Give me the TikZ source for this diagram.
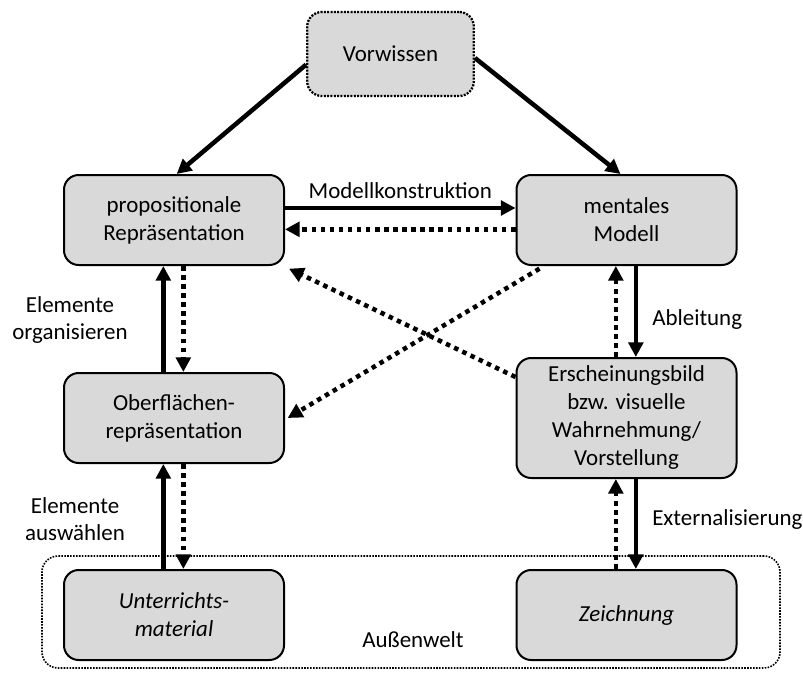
\documentclass[tikz,border=0pt]{standalone}
\usepackage{fontspec}
\setmainfont{Carlito}
\usetikzlibrary{arrows.meta}
\definecolor{boxgray}{HTML}{D9D9D9}
\tikzset{
  box/.style={draw=black, line width=1.5pt, fill=boxgray, rounded corners=11pt,
    align=center, minimum width=165pt, minimum height=67.5pt, inner sep=2pt, font=\fontsize{17.2}{21}\selectfont},
  solidarrow/.style={line width=3.4pt, -{Triangle[length=11pt,width=11pt]}},
  dotarrow/.style={line width=3.4pt, dash pattern=on 3.4pt off 3.4pt, -{Triangle[length=11pt,width=11pt]}},
  lbl/.style={font=\fontsize{17.2}{20}\selectfont, align=center, inner sep=0pt},
}
\begin{document}
\begin{tikzpicture}[x=0.75pt, y=-0.75pt]
\useasboundingbox (0,0) rectangle (803,674);
% outer world frame
\node[draw=black, line width=1.2pt, densely dotted, rounded corners=12pt,
  minimum width=553.5pt, minimum height=84pt] (aussen) at (411,612) {};
\node[lbl] (aussentext) at (413,640) {Außenwelt};
% boxes
\node[box, densely dotted, line width=1.7pt, minimum width=125pt, minimum height=63pt] (vor) at (390.5,54) {Vorwissen};
\node[box] (prop) at (174,220) {propositionale\\Repräsentation};
\node[box] (ment) at (626.5,220) {mentales\\Modell};
\node[box] (ober) at (174,418) {Oberflächen-\\repräsentation};
\node[box, minimum height=90pt] (ers) at (626.5,418) {Erscheinungsbild\\bzw. visuelle\\Wahrnehmung/\\Vorstellung};
\node[box] (unt) at (174,615) {\itshape Unterrichts-\\\itshape material};
\node[box] (zei) at (626.5,615) {\itshape Zeichnung};
% arrows from Vorwissen
\draw[solidarrow] ([yshift=-8pt]vor.west) -- ([xshift=2pt]prop.north);
\draw[solidarrow] ([yshift=-3pt]vor.east) -- ([xshift=-4.5pt]ment.north);
% top horizontal
\draw[solidarrow] ([yshift=9pt]prop.east) -- node[lbl, above=5pt] (mk) {Modellkonstruktion} ([yshift=9pt]ment.east -| ment.west);
\draw[dotarrow] ([yshift=-7pt]ment.west) -- ([yshift=-7pt]prop.east);
% left verticals
\draw[solidarrow] ([xshift=-8pt]ober.north) -- ([xshift=-8pt]prop.south);
\draw[dotarrow] ([xshift=7pt]prop.south) -- ([xshift=7pt]ober.north);
\draw[solidarrow] ([xshift=-8pt]unt.north) -- ([xshift=-8pt]ober.south);
\draw[dotarrow] ([xshift=7pt]ober.south) -- ([xshift=7pt]unt.north);
% right verticals
\draw[dotarrow] ([xshift=-8pt]ers.north) -- ([xshift=-8pt]ment.south);
\draw[solidarrow] ([xshift=7pt]ment.south) -- ([xshift=7pt]ers.north);
\draw[dotarrow] ([xshift=-8pt]zei.north) -- ([xshift=-8pt]ers.south);
\draw[solidarrow] ([xshift=7pt]ers.south) -- ([xshift=7pt]zei.north);
% diagonals
\draw[dotarrow] ([yshift=-15pt]ers.north west) -- ([shift={(3pt,-2pt)}]prop.south east);
\draw[dotarrow] ([shift={(18pt,-2pt)}]ment.south west) -- ([xshift=2pt]ober.east);
% labels
\node[lbl] (eo) at (70,320) {Elemente\\organisieren};
\node[lbl] (ea) at (75,519) {Elemente\\auswählen};
\node[lbl, anchor=west] (abl) at (652,320) {Ableitung};
\node[lbl, anchor=west] (ext) at (652,520) {Externalisierung};
\end{tikzpicture}
\end{document}
